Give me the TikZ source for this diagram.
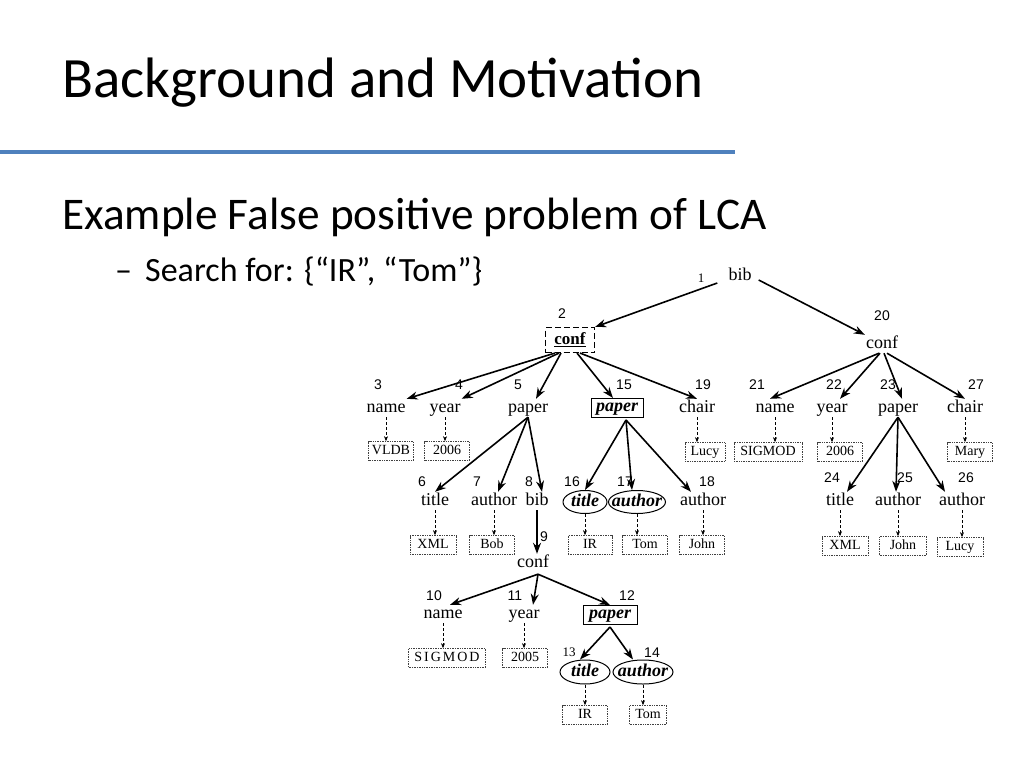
\documentclass[tikz,border=0pt]{standalone}
\usepackage{fontspec}
\setmainfont{Liberation Serif}
\newfontfamily\slidefont{Carlito}
\newfontfamily\numfont{Liberation Sans}
\usetikzlibrary{arrows.meta,shapes.geometric,calc}
\definecolor{slideblue}{RGB}{79,129,189}
\newcommand\zb[1]{\raisebox{-4.5pt}[0pt][0pt]{\makebox[0pt]{\fontsize{18}{18}\selectfont\bfseries\itshape #1}}}
\begin{document}
\begin{tikzpicture}[x=1pt,y=-1pt,
  lbl/.style={font=\fontsize{18}{18}\selectfont, inner sep=1pt, text height=12pt, text depth=4pt},
  num/.style={font=\numfont\fontsize{14}{14}\selectfont, inner sep=0pt},
  snum/.style={font=\fontsize{13}{13}\selectfont, inner sep=0pt},
  val/.style={draw=black!75, densely dotted, line width=0.7pt, font=\fontsize{14}{14}\selectfont, inner sep=0pt, minimum height=19pt, text height=9.5pt, text depth=2pt},
  hit/.style={draw, line width=1pt, inner sep=0pt, minimum height=19pt, text height=11pt, text depth=4pt, font=\fontsize{18}{18}\selectfont\bfseries\itshape},
  ell/.style={ellipse, draw, line width=1pt, inner sep=0pt},
  arr/.style={line width=1.6pt, -{Stealth[length=11pt,width=8pt]}},
  darr/.style={densely dashed, line width=0.6pt, -{Stealth[length=5pt,width=4pt]}},
  slide/.style={inner sep=0pt, anchor=base west}
]
\useasboundingbox (0,0) rectangle (1024,768);
\fill[white] (0,0) rectangle (1024,768);

% slide text
\node[slide, font=\slidefont\fontsize{57}{57}\selectfont] (title) at (62,97) {Background and Motivation};
\coordinate (ls) at (0,152);
\coordinate (le) at (735,152);
\draw[slideblue, line width=3.5pt] (ls) -- (le);
\node[slide, font=\slidefont\fontsize{45.3}{45}\selectfont] (sub) at (62,229) {Example False positive problem of LCA};
\node[slide, font=\slidefont\fontsize{34}{34}\selectfont] (dash) at (115,281) {–};
\node[slide, font=\slidefont\fontsize{34}{34}\selectfont] (search) at (145,281) {Search for: \{“IR”, “Tom”\}};

% root
\node[lbl] (b1) at (740,276) {bib};
\node[snum] (n1) at (701,278) {1};
\node[draw, dash pattern=on 6pt off 3pt, line width=1.1pt, minimum width=49pt, minimum height=25pt, inner sep=0pt, font=\fontsize{17}{17}\selectfont\bfseries] (c2) at (570,340) {\underline{conf}};
\node[num] (n2) at (562,314) {2};
\node[lbl] (c20) at (882,344) {conf};
\node[num] (n20) at (882,316) {20};

% level 2
\node[lbl] (name3) at (386,408) {name};
\node[num] (n3) at (378,385) {3};
\node[lbl] (year4) at (445,408) {year};
\node[num] (n4) at (459,385) {4};
\node[lbl] (paper5) at (528,408) {paper};
\node[num] (n5) at (518,385) {5};
\node[hit, minimum width=52pt] (paper15) at (617,408) {\underline{paper}};
\node[num] (n15) at (624,385) {15};
\node[lbl] (chair19) at (697,408) {chair};
\node[num] (n19) at (703,385) {19};
\node[lbl] (name21) at (775,408) {name};
\node[num] (n21) at (757,385) {21};
\node[lbl] (year22) at (832,408) {year};
\node[num] (n22) at (834,385) {22};
\node[lbl] (paper23) at (898,408) {paper};
\node[num] (n23) at (888,385) {23};
\node[lbl] (chair27) at (965,408) {chair};
\node[num] (n27) at (976,385) {27};

% values row 1
\node[val, minimum width=45pt] (v3) at (391,451) {VLDB};
\node[val, minimum width=45pt] (v4) at (447,451) {2006};
\node[val, minimum width=40pt] (v19) at (705,452) {Lucy};
\node[val, minimum width=68pt] (v21) at (768,452) {SIGMOD};
\node[val, minimum width=45pt] (v22) at (840,452) {2006};
\node[val, minimum width=45pt] (v27) at (970,452) {Mary};

% level 3
\node[lbl] (title6) at (435,501) {title};
\node[num] (n6) at (422,482) {6};
\node[lbl] (author7) at (494,501) {author};
\node[num] (n7) at (477,482) {7};
\node[lbl] (bib8) at (537,501) {bib};
\node[num] (n8) at (529,482) {8};
\node[ell, minimum width=44pt, minimum height=23pt] (title16) at (585,502) {\zb{title}};
\node[num] (n16) at (572,482) {16};
\node[ell, minimum width=57pt, minimum height=23pt] (author17) at (637,502) {\zb{author}};
\node[num] (n17) at (625,482) {17};
\node[lbl] (author18) at (703,501) {author};
\node[num] (n18) at (707,482) {18};
\node[lbl] (title24) at (840,501) {title};
\node[num] (n24) at (832,478) {24};
\node[lbl] (author25) at (898,501) {author};
\node[num] (n25) at (905,478) {25};
\node[lbl] (author26) at (962,501) {author};
\node[num] (n26) at (966,478) {26};

% values row 2
\node[val, minimum width=46pt] (v6) at (433,545) {XML};
\node[val, minimum width=45pt] (v7) at (492,545) {Bob};
\node[val, minimum width=44pt] (v16) at (590,545) {IR};
\node[val, minimum width=45pt] (v17) at (645,545) {Tom};
\node[val, minimum width=45pt] (v18) at (702,545) {John};
\node[val, minimum width=46pt] (v24) at (845,546) {XML};
\node[val, minimum width=47pt] (v25) at (903,546) {John};
\node[val, minimum width=46pt] (v26) at (960,547) {Lucy};

% nested conf
\node[lbl] (conf9) at (533,563) {conf};
\node[num] (n9) at (544,537) {9};
\node[lbl] (name10) at (443,614) {name};
\node[num] (n10) at (434,596) {10};
\node[lbl] (year11) at (524,614) {year};
\node[num] (n11) at (515,596) {11};
\node[hit, minimum width=54pt] (paper12) at (610,615) {\underline{paper}};
\node[num] (n12) at (627,596) {12};
\node[val, minimum width=77pt] (v10) at (447,658) {\addfontfeatures{LetterSpace=14}SIGMOD};
\node[val, minimum width=45pt] (v11) at (525,658) {2005};
\node[ell, minimum width=50pt, minimum height=24pt] (title13) at (585,672) {\zb{title}};
\node[snum] (n13) at (569,652) {13};
\node[ell, minimum width=60pt, minimum height=24pt] (author14) at (643,672) {\zb{author}};
\node[num] (n14) at (652,653) {14};
\node[val, minimum width=45pt] (v13) at (585,715) {IR};
\node[val, minimum width=37pt] (v14) at (648,715) {Tom};

% solid edges
\draw[arr] ($(b1.west)+(-10,7)$) -- (c2.north east);
\draw[arr] ($(b1.east)+(6,4)$) -- (c20.north west);

\draw[arr] ($(c2.south)+(-15,0)$) -- (name3.north east);
\draw[arr] ($(c2.south)+(-11,0)$) -- (year4.north east);
\draw[arr] ($(c2.south)+(-9,0)$) -- ($(paper5.north)+(8,0)$);
\draw[arr] ($(c2.south)+(7,0)$) -- ($(paper15.north)+(-4,0)$);
\draw[arr] ($(c2.south)+(10,0)$) -- (chair19.north);

\draw[arr] ($(c20.south)+(-3,0)$) -- ($(name21.north)+(-5,0)$);
\draw[arr] ($(c20.south)+(-2,0)$) -- ($(year22.north)+(8,0)$);
\draw[arr] ($(c20.south)+(2,0)$) -- ($(paper23.north)+(4,0)$);
\draw[arr] ($(c20.south)+(5,0)$) -- (chair27.north);

\draw[arr] (paper5.south) -- (title6.north);
\draw[arr] (paper5.south) -- ($(author7.north)+(4,0)$);
\draw[arr] (paper5.south) -- ($(bib8.north)+(5,0)$);

\draw[arr] ($(paper15.south)+(9,2)$) -- (title16.north);
\draw[arr] ($(paper15.south)+(9,2)$) -- ($(author17.north)+(-5,0)$);
\draw[arr] ($(paper15.south)+(9,2)$) -- ($(author18.north)+(-12,0)$);

\draw[arr] (paper23.south) -- ($(title24.north)+(7,0)$);
\draw[arr] (paper23.south) -- ($(author25.north)+(-2,0)$);
\draw[arr] (paper23.south) -- ($(author26.north)+(-17,0)$);

\draw[arr] (bib8.south) -- (bib8.south |- conf9.north);

\draw[arr] ($(conf9.south)+(5,2)$) -- ($(name10.north)+(7,0)$);
\draw[arr] ($(conf9.south)+(5,2)$) -- ($(year11.north)+(9,0)$);
\draw[arr] ($(conf9.south)+(5,2)$) -- (paper12.north);

\draw[arr] ($(paper12.south)+(0,2)$) -- ($(title13.north)+(-5,0)$);
\draw[arr] ($(paper12.south)+(0,2)$) -- ($(author14.north)+(-10,0)$);

% dashed edges to values
\foreach \a/\b in {name3/v3, year4/v4, chair19/v19, name21/v21, year22/v22, chair27/v27,
  title6/v6, author7/v7, title16/v16, author17/v17, author18/v18,
  title24/v24, author25/v25, author26/v26, name10/v10, year11/v11, title13/v13, author14/v14}
  \draw[darr] (\a.south) -- (\a.south |- \b.north);
\end{tikzpicture}
\end{document}
